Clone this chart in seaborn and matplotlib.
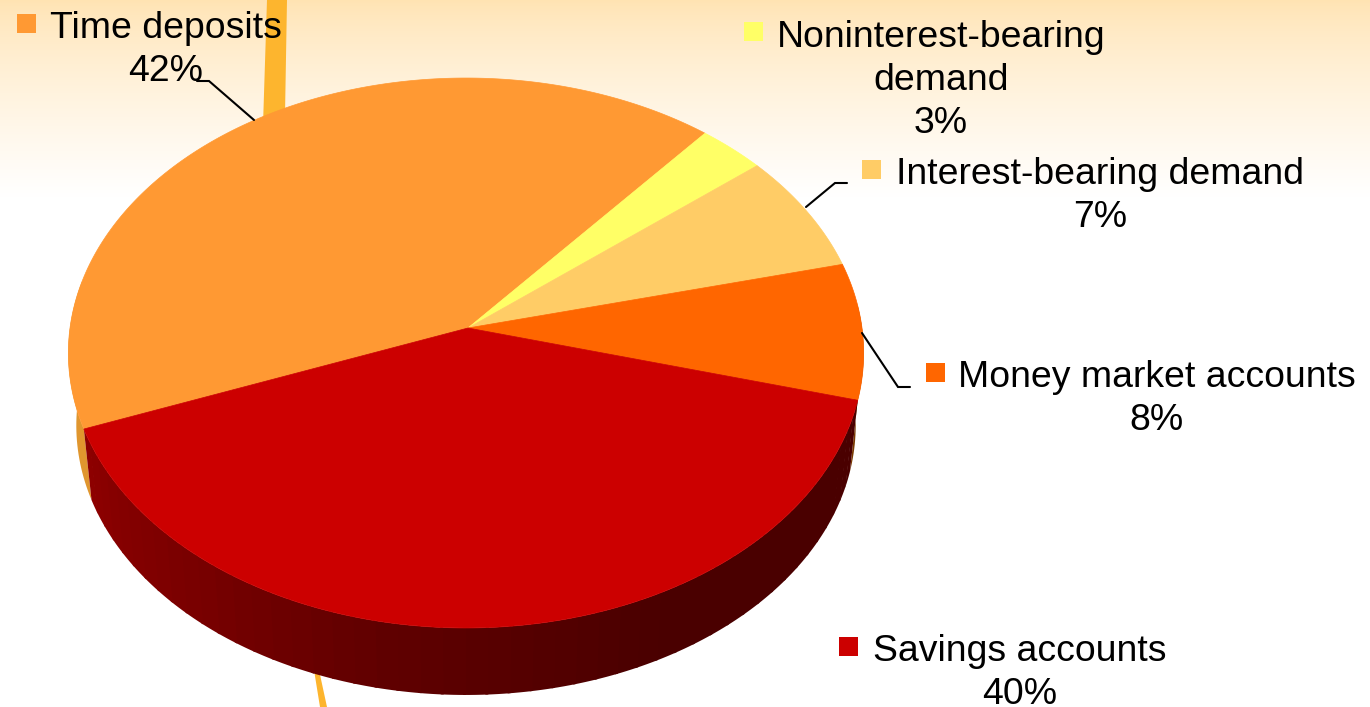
import numpy as np
import matplotlib
matplotlib.use("Agg")
import matplotlib.pyplot as plt
import seaborn as sns

# Deposit mix, clockwise from the long slice at upper left
categories = ["Time deposits", "Noninterest-bearing\ndemand", "Interest-bearing demand",
              "Money market accounts", "Savings accounts"]
shares = [42, 3, 7, 8, 40]
slice_colors = ["#FF9933", "#FFFF66", "#FFCC66", "#FF6600", "#CC0000"]

sns.set_theme(style="white")
plt.rcParams["font.family"] = ["Liberation Sans", "DejaVu Sans"]

WIDTH, HEIGHT = 1370, 707
fig = plt.figure(figsize=(WIDTH / 100, HEIGHT / 100), dpi=100)
ax = fig.add_axes([0, 0, 1, 1])
ax.set_xlim(0, WIDTH)
ax.set_ylim(HEIGHT, 0)
ax.axis("off")

# Header wash behind the chart
stops = np.linspace(0, 1, 200)[:, None] ** 0.75
wash = np.array([255, 227, 178]) / 255 * (1 - stops) + stops
ax.imshow(wash.reshape(200, 1, 3), extent=(0, WIDTH, 197, 0), aspect="auto", zorder=0)
ax.set_xlim(0, WIDTH)
ax.set_ylim(HEIGHT, 0)

# Decorative ribbon passing behind the pie
ribbon = "#FDB52E"
ax.fill([267, 287, 285, 263], [0, 0, 115, 125], color=ribbon, lw=0, zorder=1)
ax.fill([314, 319, 327, 320], [670, 670, 707, 707], color=ribbon, lw=0, zorder=1)


def project(theta_deg, scale=1.0, cx=466.0, cy=328.0):
    """Map pie angles (clockwise, screen space) to a tilted disc with perspective."""
    t = np.radians(theta_deg)
    k = 0.0909
    denom = 1 - k * np.sin(t)
    return cx + scale * 396 * np.cos(t) / denom, cy + scale * 272.7 * np.sin(t) / denom


def rim_polygon(t0, t1):
    ts = np.linspace(t0, t1, max(2, int(abs(t1 - t0)) + 2))
    x_top, y_top = project(ts)
    x_bot, y_bot = project(ts[::-1], scale=0.98, cy=401.0)
    return np.r_[x_top, x_bot], np.r_[y_top, y_bot]


START = 159.0
edges = START + np.cumsum([0] + shares) * 3.6
sweep = dict(zip(categories, zip(edges[:-1], edges[1:])))

# Outer wall of the disc: each slice's wall is visible on the near side only
time_start = sweep[categories[0]][0]
x, y = rim_polygon(time_start, 190)
ax.fill(x, y, color="#E0962E", lw=0, zorder=2)
money_start, money_end = sweep[categories[3]]
x, y = rim_polygon(money_end - 360, money_end - 360 - 20)
ax.fill(x, y, color="#7A3A00", lw=0, zorder=2)

wall_end = time_start
wall_start = money_end - 360
wall_steps = np.arange(wall_start, wall_end, 3.0)
for a in wall_steps:
    red = np.interp(a, [16, 62, 100, 130, 160], [0x4A, 0x4A, 0x60, 0x7A, 0x90])
    shade = (red / 255, 0, 0)
    x, y = rim_polygon(a, min(a + 3.4, wall_end))
    ax.fill(x, y, color=shade, lw=0, zorder=3)

# Top face of the pie; the apex sits slightly right of the rim's centre
apex_x, apex_y = project(0.0, scale=0.0, cx=468.0)
for name, color in zip(categories, slice_colors):
    t0, t1 = sweep[name]
    ts = np.linspace(t0, t1, 240)
    xs, ys = project(ts)
    ax.fill(np.r_[apex_x, xs], np.r_[apex_y, ys], color=color, lw=0.5, ec=color, zorder=4)

# Leader lines from labels to slices
leaders = [([197, 209, 254], [81, 81, 120]),
           ([847, 835, 806], [183, 183, 207]),
           ([862, 898, 910], [333, 387, 387])]
for lx, ly in leaders:
    ax.plot(lx, ly, color="black", lw=1.5, zorder=5, solid_joinstyle="miter")

# Labels: centre x, first baseline, legend key corner
label_centres = [166, 941, 1100, 1157, 1020]
label_baselines = [38, 47, 184, 387, 661]
key_corners = [(17, 14), (744, 22), (862, 160), (926, 363), (839, 637)]
LINE_STEP = 43
for name, share, color, cx, base, key in zip(categories, shares, slice_colors,
                                             label_centres, label_baselines, key_corners):
    rows = name.split("\n") + [f"{share}%"]
    for i, row in enumerate(rows):
        ax.text(cx, base + i * LINE_STEP, row, ha="center", va="baseline",
                fontsize=26.95, color="black", zorder=6)
    ax.fill([key[0], key[0] + 19, key[0] + 19, key[0]],
            [key[1], key[1], key[1] + 19, key[1] + 19], color=color, lw=0, zorder=6)

fig.savefig("out.png", dpi=100)
